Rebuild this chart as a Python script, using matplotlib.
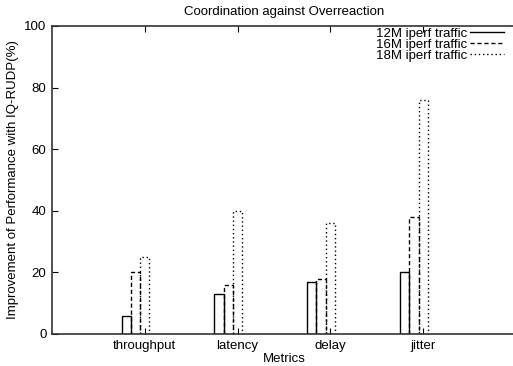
import numpy as np
import matplotlib
matplotlib.use("Agg")
import matplotlib.pyplot as plt
from matplotlib.lines import Line2D

plt.rcParams['font.family'] = ['Liberation Sans', 'DejaVu Sans']

metrics = ["throughput", "latency", "delay", "jitter"]
series = ["12M iperf traffic", "16M iperf traffic", "18M iperf traffic"]
v12 = [6, 13, 17, 20]
v16 = [20, 16, 18, 38]
v18 = [25, 40, 36, 76]
styles = ["solid", (0, (3, 2)), (0, (1, 2))]

fs = 9.5
fig = plt.figure(figsize=(5.13, 3.66), dpi=100)
ax = fig.add_axes([52 / 513, 32 / 366, 464 / 513, 308 / 366])

x = np.arange(1, len(metrics) + 1)
w = 0.1
for i, (vals, ls) in enumerate(zip([v12, v16, v18], styles)):
    ax.bar(x + (i - 2) * w, vals, width=w, align="center", fill=False,
           edgecolor="black", linewidth=1.0, linestyle=ls)

ax.set_xlim(0, 5)
ax.set_ylim(0, 100)
ax.set_xticks(x)
ax.set_xticklabels(metrics)
ax.set_yticks(range(0, 101, 20))
ax.tick_params(direction="in", top=True, right=False, labelsize=fs,
               length=4, width=0.8, pad=4)
ax.spines["right"].set_visible(False)
for s in ax.spines.values():
    s.set_linewidth(1.2)
    s.set_color("#333333")

ax.set_xlabel("Metrics", fontsize=fs, labelpad=1)
ax.set_ylabel("Improvement of Performance with IQ-RUDP(%)", fontsize=fs, labelpad=4)
ax.set_title("Coordination against Overreaction", fontsize=fs, pad=8)

handles = [Line2D([0], [0], color="black", linewidth=1.0, linestyle=ls) for ls in styles]
ax.legend(handles, series, loc="upper right", bbox_to_anchor=(0.995, 1.025),
          frameon=False, markerfirst=False, fontsize=fs, handlelength=2.6,
          handletextpad=0.25, labelspacing=-0.1, borderpad=0.2)

fig.savefig("out.png", dpi=100)
